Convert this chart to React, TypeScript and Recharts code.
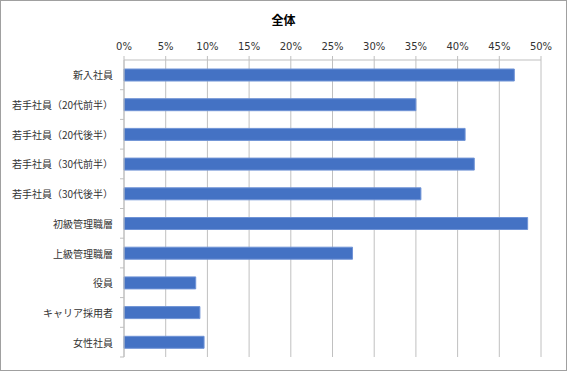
import React from "react";
import { BarChart, Bar, XAxis, YAxis, CartesianGrid } from "recharts";

const categories = [
  "新入社員",
  "若手社員（20代前半）",
  "若手社員（20代後半）",
  "若手社員（30代前半）",
  "若手社員（30代後半）",
  "初級管理職層",
  "上級管理職層",
  "役員",
  "キャリア採用者",
  "女性社員",
];
const values = [46.8, 35.0, 40.9, 42.0, 35.6, 48.4, 27.4, 8.6, 9.1, 9.6];
const xTicks = [0, 5, 10, 15, 20, 25, 30, 35, 40, 45, 50];
const title = "全体";

const data = categories.map((name, i) => ({ name, value: values[i] }));

const W = 567;
const H = 371;
const TOP = 60;
const BOTTOM = 14;
const BAND = (H - TOP - BOTTOM) / categories.length;

const CatTick = (props: any) => {
  const { x, y, payload } = props;
  return (
    <g>
      <text
        x={x - 11}
        y={y}
        textAnchor="end"
        dominantBaseline="central"
        fontSize={10}
        fontFamily="'Noto Sans CJK JP', sans-serif"
        fill="#333"
      >
        {payload.value}
      </text>
      <line x1={x - 4} x2={x} y1={y + BAND / 2} y2={y + BAND / 2} stroke="#bfbfbf" strokeWidth={1} />
    </g>
  );
};

export default function App() {
  return (
    <div style={{ position: "absolute", left: 0, top: 0, width: W, height: H, background: "#fff" }}>
      <BarChart
        width={W}
        height={H}
        data={data}
        layout="vertical"
        margin={{ top: 20, right: 26, bottom: BOTTOM, left: 0 }}
      >
        <CartesianGrid horizontal={false} stroke="#c0c0c0" strokeWidth={1} />
        <XAxis
          type="number"
          orientation="top"
          domain={[0, 50]}
          ticks={xTicks}
          interval={0}
          height={40}
          tickFormatter={(v: number) => `${v}%`}
          axisLine={{ stroke: "#bfbfbf" }}
          tickLine={{ stroke: "#bfbfbf" }}
          tickSize={4}
          tickMargin={6}
          tick={{ fontSize: 10, fill: "#333", fontFamily: "'DejaVu Sans', sans-serif" }}
        />
        <YAxis
          type="category"
          dataKey="name"
          width={124}
          interval={0}
          axisLine={{ stroke: "#bfbfbf" }}
          tickLine={false}
          tickSize={0}
          tickMargin={0}
          tick={<CatTick />}
        />
        <Bar
          dataKey="value"
          fill="#4472C4"
          stroke="#6f93d6"
          strokeWidth={1}
          barSize={12}
          isAnimationActive={false}
        />
      </BarChart>
      <div
        style={{
          position: "absolute",
          left: 0,
          top: 11,
          width: W,
          textAlign: "center",
          fontFamily: "'Noto Sans CJK JP', sans-serif",
          fontWeight: "bold",
          fontSize: 12,
          lineHeight: "18px",
          color: "#000",
        }}
      >
        {title}
      </div>
      <div
        style={{
          position: "absolute",
          left: 0,
          top: 0,
          width: W,
          height: H,
          boxSizing: "border-box",
          border: "1px solid #a0a0a0",
          pointerEvents: "none",
        }}
      />
    </div>
  );
}
